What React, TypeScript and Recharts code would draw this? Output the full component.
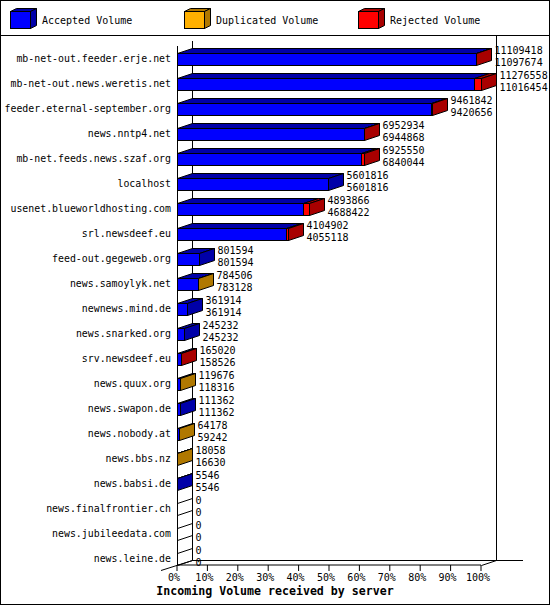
import React from 'react';
import { BarChart, Bar, XAxis, YAxis, Customized } from 'recharts';

const servers = [
  'mb-net-out.feeder.erje.net',
  'mb-net-out.news.weretis.net',
  'feeder.eternal-september.org',
  'news.nntp4.net',
  'mb-net.feeds.news.szaf.org',
  'localhost',
  'usenet.blueworldhosting.com',
  'srl.newsdeef.eu',
  'feed-out.gegeweb.org',
  'news.samoylyk.net',
  'newnews.mind.de',
  'news.snarked.org',
  'srv.newsdeef.eu',
  'news.quux.org',
  'news.swapon.de',
  'news.nobody.at',
  'news.bbs.nz',
  'news.babsi.de',
  'news.finalfrontier.ch',
  'news.jubileedata.com',
  'news.leine.de',
];

const acceptedVolume = [
  11097674, 11016454, 9420656, 6944868, 6840044, 5601816, 4688422, 4055118,
  801594, 783128, 361914, 245232, 158526, 118316, 111362, 59242, 16630, 5546,
  0, 0, 0,
];

const duplicatedVolume = [
  0, 0, 0, 0, 0, 0, 0, 0,
  0, 1378, 0, 0, 0, 1360, 0, 4936, 1428, 0,
  0, 0, 0,
];

const rejectedVolume = [
  11744, 260104, 41186, 8066, 85506, 0, 205444, 49784,
  0, 0, 0, 0, 6494, 0, 0, 0, 0, 0,
  0, 0, 0,
];

const percentTicks = [0, 10, 20, 30, 40, 50, 60, 70, 80, 90, 100];

const series = [
  { key: 'accepted', name: 'Accepted Volume', front: '#0000ff', dark: '#0000a8' },
  { key: 'duplicated', name: 'Duplicated Volume', front: '#ffb000', dark: '#b07800' },
  { key: 'rejected', name: 'Rejected Volume', front: '#ff0000', dark: '#a80000' },
];

const data = servers.map((name, i) => ({
  name,
  accepted: acceptedVolume[i],
  duplicated: duplicatedVolume[i],
  rejected: rejectedVolume[i],
  total: acceptedVolume[i] + duplicatedVolume[i] + rejectedVolume[i],
}));

const maxTotal = Math.max(...data.map((d) => d.total));

const MONO = '"DejaVu Sans Mono", "Liberation Mono", monospace';
const DX = 15; // 3d depth
const DY = 5;
const SHIFT = 6; // bars sit at the bottom of their band

const makeShape = (idx: number) => (props: any) => {
  const { x, y, width, payload } = props;
  const s = series[idx];
  const value = payload[s.key];
  const empty = payload.total === 0;
  if (value <= 0 && !(idx === 0 && empty)) return <g />;
  const later = series.slice(idx + 1).some((o) => payload[o.key] > 0);
  const x0 = Math.round(x) + 0.5;
  const x1 = Math.round(x + width) + 0.5;
  const top = Math.round(y) + SHIFT + 0.5;
  const bottom = top + 12;
  const pts = (arr: number[][]) => arr.map((p) => p.join(',')).join(' ');
  return (
    <g>
      {!empty && (
        <>
          <rect x={x0} y={top} width={x1 - x0} height={12} fill={s.front} stroke="#000" />
          <polygon
            points={pts([[x0, top], [x0 + DX, top - DY], [x1 + DX, top - DY], [x1, top]])}
            fill={s.dark}
            stroke="#000"
          />
        </>
      )}
      {!later && (
        <>
          <polygon
            points={pts([[x1, top], [x1 + DX, top - DY], [x1 + DX, bottom - DY], [x1, bottom]])}
            fill={empty ? 'none' : s.dark}
            stroke="#000"
          />
          <text x={x1 + DX + 3} y={top} fontFamily={MONO} fontSize={10} fill="#000">
            {payload.total}
          </text>
          <text x={x1 + DX + 3} y={top + 12} fontFamily={MONO} fontSize={10} fill="#000">
            {payload.accepted}
          </text>
        </>
      )}
    </g>
  );
};

const ServerTick = (props: any) => {
  const { x, y, payload } = props;
  return (
    <text x={x} y={y + 9} textAnchor="end" fontFamily={MONO} fontSize={9.9} fill="#000">
      {payload.value}
    </text>
  );
};

const PercentTick = (props: any) => {
  const { x, y, payload } = props;
  return (
    <text x={x - 3} y={y + 8} textAnchor="middle" fontFamily={MONO} fontSize={10} fill="#000">
      {Math.round((payload.value / maxTotal) * 100)}%
    </text>
  );
};

const Frame = () => (
  <g>
    <rect x={0.5} y={0.5} width={549} height={604} fill="none" stroke="#000" />
    <line x1={0} y1={35.5} x2={550} y2={35.5} stroke="#000" />
    {series.map((s, i) => {
      const bx = [10, 184, 358][i];
      return (
        <g key={s.key}>
          <polygon points={`${bx + 0.5},11.5 ${bx + 6.5},8.5 ${bx + 26.5},8.5 ${bx + 20.5},11.5`} fill={s.dark} stroke="#000" />
          <polygon points={`${bx + 20.5},11.5 ${bx + 26.5},8.5 ${bx + 26.5},25.5 ${bx + 20.5},28.5`} fill={s.dark} stroke="#000" />
          <rect x={bx + 0.5} y={11.5} width={20} height={17} fill={s.front} stroke="#000" />
          <text x={bx + 32} y={24} fontFamily={MONO} fontSize={10} fill="#000">
            {s.name}
          </text>
        </g>
      );
    })}
    {/* walls and floor */}
    <line x1={177.5} y1={46} x2={177.5} y2={565} stroke="#000" />
    <line x1={192.5} y1={41} x2={192.5} y2={560} stroke="#000" />
    <line x1={496.5} y1={36} x2={496.5} y2={560} stroke="#000" />
    <line x1={192} y1={560.5} x2={523} y2={560.5} stroke="#000" />
    <line x1={161} y1={570.5} x2={192.5} y2={560.5} stroke="#000" />
    <line x1={481.5} y1={565.5} x2={496.5} y2={560.5} stroke="#000" />
    <text x={275} y={595} textAnchor="middle" fontFamily={MONO} fontSize={11.6} fontWeight="bold" fill="#000">
      Incoming Volume received by server
    </text>
  </g>
);

export default function App() {
  return (
    <div style={{ position: 'absolute', left: 0, top: 0, width: 550, height: 605, background: '#fff' }}>
      <BarChart
        width={550}
        height={605}
        data={data}
        layout="vertical"
        margin={{ top: 40, right: 69, bottom: 10, left: 7 }}
        barSize={12}
      >
        <Customized component={<Frame />} />
        <XAxis
          type="number"
          domain={[0, maxTotal]}
          ticks={percentTicks.map((p) => (p / 100) * maxTotal)}
          tick={<PercentTick />}
          tickSize={6}
          height={30}
          interval={0}
          axisLine={{ stroke: '#000' }}
          tickLine={{ stroke: '#000' }}
        />
        <YAxis
          type="category"
          dataKey="name"
          width={170}
          tick={<ServerTick />}
          tickSize={0}
          tickMargin={6}
          axisLine={false}
          tickLine={false}
          interval={0}
        />
        {series.map((s, i) => (
          <Bar
            key={s.key}
            dataKey={s.key}
            name={s.name}
            stackId="v"
            fill={s.front}
            shape={makeShape(i)}
            isAnimationActive={false}
          />
        ))}
      </BarChart>
    </div>
  );
}
